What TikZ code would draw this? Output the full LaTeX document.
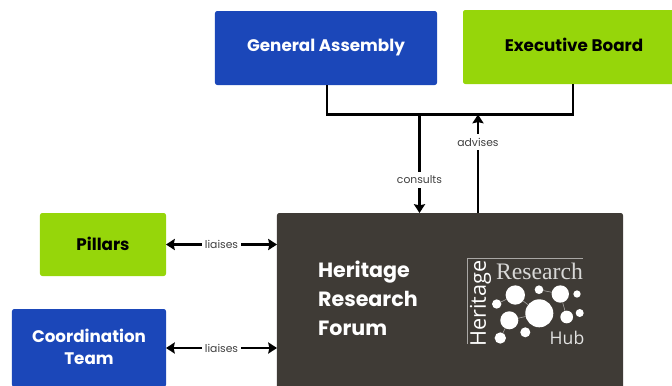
\documentclass[tikz,border=0pt]{standalone}
\usepackage{fontspec}
\setmainfont{Poppins}
\newfontfamily\logoserif{Liberation Serif}
\newfontfamily\logosans{Open Sans}
\usetikzlibrary{arrows.meta,positioning,calc}

\definecolor{hubblue}{HTML}{1B47B9}
\definecolor{hubgreen}{HTML}{96D60A}
\definecolor{hubdark}{HTML}{3F3B36}
\definecolor{hubtext}{HTML}{404040}

\tikzset{
  bluebox/.style={rectangle,rounded corners=2pt,fill=hubblue,text=white,outer sep=0pt,
     align=center,font=\fontsize{14.3}{19.5}\selectfont\bfseries},
  greenbox/.style={rectangle,rounded corners=2pt,fill=hubgreen,text=black,outer sep=0pt,
     align=center,font=\fontsize{14.3}{19.5}\selectfont\bfseries},
  forumbox/.style={rectangle,rounded corners=2pt,fill=hubdark,outer sep=0pt},
  wire/.style={line width=2pt,>={Stealth[length=7.5pt,width=9.5pt,inset=1pt]}},
  tag/.style={fill=white,text=hubtext,inner xsep=2.5pt,inner ysep=3pt,font=\fontsize{9.2}{11}\selectfont},
  logodot/.style={circle,fill=white,inner sep=0pt,outer sep=0pt},
  logoline/.style={draw=white!55!hubdark,line width=0.5pt}
}

\begin{document}
\begin{tikzpicture}[x=0.03cm,y=-0.03cm]

\useasboundingbox (0,0) rectangle (672,385);

\node[bluebox,minimum width=6.66cm,minimum height=2.22cm] (assembly) at (326,48) {General Assembly};
\node[greenbox,minimum width=6.66cm,minimum height=2.22cm,text depth=3pt] (board) at (574,47) {Executive Board};
\node[greenbox,minimum width=3.78cm,minimum height=1.89cm,text depth=2pt] (pillars) at (103,244.5) {Pillars};
\node[bluebox,minimum width=4.62cm,minimum height=2.34cm,text depth=2pt] (coord) at (89,348) {Coordination\\Team};
\node[forumbox,minimum width=10.38cm,minimum height=7.08cm] (forum) at (450,331) {};

\node[anchor=west,text=white,align=left,font=\fontsize{17.6}{24.7}\selectfont\bfseries] (forumtext) at (314,298) {Heritage\\Research\\Forum};

\coordinate (turn1) at (327,114.5);
\coordinate (turn2) at (573,114.5);
\coordinate (join1) at (419.5,114.5);
\coordinate (join2) at (478,114.5);

\draw[wire] (assembly.south -| turn1) -- (turn1) -- (turn2) -- (board.south -| turn2);
\draw[wire,->] (join1) -- node[tag,pos=0.665] {consults} (join1 |- forum.north);
\draw[wire,->] (join2 |- forum.north) -- node[tag,pos=0.72] {advises} (join2);
\draw[wire,<->] (pillars.east) -- node[tag] {liaises} (pillars.east -| forum.west);
\draw[wire,<->] (coord.east) -- node[tag] {liaises} (coord.east -| forum.west);

% logo
\coordinate (frame1) at (467.5,344);
\coordinate (frame2) at (467.5,258);
\coordinate (frame3) at (583,258);
\draw[logoline] (frame1) -- (frame2) -- (frame3);

\node[text=white!80!hubdark,font=\logoserif\fontsize{20.2}{22}\selectfont,inner sep=0pt] (lresearch) at (539.5,271) {Research};
\node[text=white!85!hubdark,font=\logosans\fontsize{15}{18}\selectfont,inner sep=0pt] (lhub) at (567,338) {Hub};
\node[text=white,rotate=90,font=\logosans\fontsize{18.5}{20}\selectfont,inner sep=0pt] (lheritage) at (480.5,303.5) {Heritage};

\foreach \name/\x/\y/\d in {a/539.3/313.3/0.84,b/515.3/295/0.58,c/539/289.7/0.26,d/560.3/294/0.52,
   e/577/294/0.22,f/496.7/304/0.28,g/509.3/320.3/0.54,h/566.7/317/0.38,i/579.7/313/0.24,
   j/525.3/332.3/0.30,k/500.3/338/0.34}{
   \node[logodot,minimum size=\d cm] (dot\name) at (\x,\y) {};
}
\draw[logoline] (dota) -- (dotb);
\draw[logoline] (dota) -- (dotg);
\draw[logoline] (dotb) -- (dotf);
\draw[logoline] (dotc) -- (dotd);
\draw[logoline] (dotd) -- (doth);
\draw[logoline] (dotg) -- (dotk);

\end{tikzpicture}
\end{document}
